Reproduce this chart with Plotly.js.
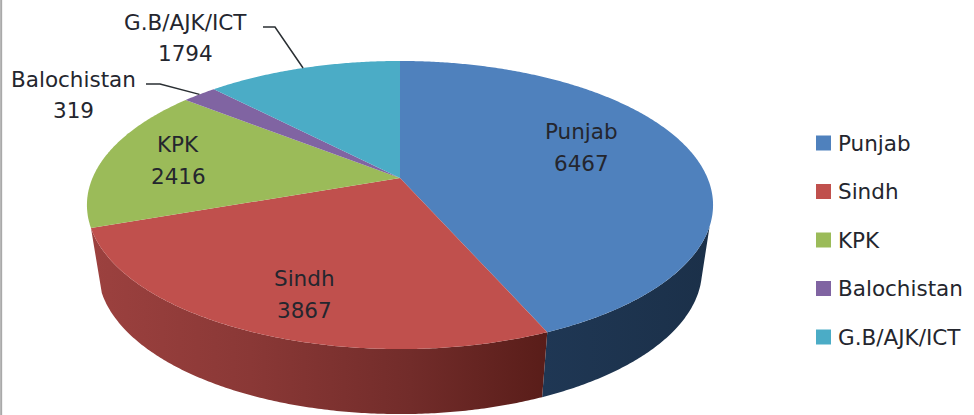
<!DOCTYPE html>
<html>
<head>
<meta charset="utf-8">
<script src="https://cdn.plot.ly/plotly-3.0.1.min.js"></script>
<style>html,body{margin:0;padding:0;background:#fff}#chart{width:974px;height:415px}</style>
</head>
<body>
<div id="chart"></div>
<script>
// Data
const categories = ["Punjab", "Sindh", "KPK", "Balochistan", "G.B/AJK/ICT"];
const values = [6467, 3867, 2416, 319, 1794];
const colors = ["#4f81bd", "#c0504d", "#9bbb59", "#8064a2", "#4bacc6"];
const wallScales = [
  [[0, "#1f3754"], [1, "#1b3049"]],
  [[0, "#9c413f"], [0.35, "#8a3836"], [0.7, "#722c2a"], [1, "#591d19"]]
];
const labelAnchors = [[581, 131, 163], [304, 278, 310], [178, 144, 176], [73, 79, 110], [185, 22, 53]];
const leaderStarts = { 3: [[146, 84], [160, 84]], 4: [[263, 27], [275, 27]] };

// Perspective geometry of the disc (pixel space of the hidden axes)
const apex = [400, 178], A = 307.5, B = 139, K = 0.1875;
const depth = 65, lowerScale = 302 / 313;
const upperSilhouette = 109, lowerSilhouette = 104;
const DEG = Math.PI / 180;
const total = values.reduce((a, b) => a + b, 0);
const font = { family: "DejaVu Sans", size: 21.5, color: "#24262e" };

function rim(deg, lower) {
  const u = Math.sin(deg * DEG), v = Math.cos(deg * DEG), w = 1 + K * v;
  const s = lower ? lowerScale : 1;
  return [apex[0] + s * A * u / w, apex[1] - B * v / w + (lower ? depth : 0)];
}
function arc(a0, a1, lower) {
  const n = Math.max(2, Math.ceil(Math.abs(a1 - a0) * 2)), p = [];
  for (let i = 0; i <= n; i++) p.push(rim(a0 + (a1 - a0) * i / n, lower));
  return p;
}

let cum = 0;
const slices = values.map(v => {
  const s = { start: cum / total * 360, end: (cum + v) / total * 360 };
  s.mid = (s.start + s.end) / 2;
  cum += v;
  return s;
});

const traces = [];
const base = { type: "scatter", hoverinfo: "skip", showlegend: false };

// Side walls: only the part of the rim that faces the viewer
wallScales.forEach((scale, i) => {
  const s = slices[i];
  const upper0 = Math.max(s.start, upperSilhouette), lower0 = Math.max(s.start, lowerSilhouette);
  const a1 = Math.min(s.end, 270);
  const pts = arc(upper0, a1, false).concat(arc(a1, lower0, true));
  traces.push(Object.assign({}, base, {
    mode: "none", fill: "toself",
    x: pts.map(p => p[0]), y: pts.map(p => p[1]),
    fillcolor: scale[0][1],
    fillgradient: { type: "horizontal", colorscale: scale }
  }));
});

// Top faces
slices.forEach((s, i) => {
  const pts = [apex].concat(arc(s.start, s.end, false));
  traces.push(Object.assign({}, base, {
    mode: "none", fill: "toself",
    x: pts.map(p => p[0]), y: pts.map(p => p[1]),
    fillcolor: colors[i], name: categories[i]
  }));
});

// Leader lines
Object.keys(leaderStarts).forEach(k => {
  const pts = leaderStarts[k].concat([rim(slices[k].mid, false)]);
  traces.push(Object.assign({}, base, {
    mode: "lines", line: { color: "#2a2f33", width: 1.5 },
    x: pts.map(p => p[0]), y: pts.map(p => p[1])
  }));
});

// Legend swatches
const legendY = i => 143 + i * 48.5;
traces.push(Object.assign({}, base, {
  mode: "markers",
  x: categories.map(() => 823.5),
  y: categories.map((c, i) => legendY(i)),
  marker: { symbol: "square", size: 15, color: colors, line: { width: 0 } }
}));

const annotations = [];
// Legend text
categories.forEach((c, i) => annotations.push({
  x: 837, y: legendY(i), xref: "x", yref: "y", text: c, showarrow: false,
  xanchor: "left", yanchor: "middle", xshift: -1, font
}));
// Data labels
categories.forEach((c, i) => {
  const [x, y1, y2] = labelAnchors[i];
  [[c, y1], [String(values[i]), y2]].forEach(([t, y]) => annotations.push({
    x, y, xref: "x", yref: "y", text: t, showarrow: false,
    xanchor: "center", yanchor: "middle", font
  }));
});

Plotly.newPlot("chart", traces, {
  width: 974, height: 415,
  margin: { l: 0, r: 0, t: 0, b: 0 },
  paper_bgcolor: "#ffffff", plot_bgcolor: "#ffffff",
  xaxis: { range: [0, 974], visible: false, fixedrange: true },
  yaxis: { range: [415, 0], visible: false, fixedrange: true },
  showlegend: false,
  annotations,
  shapes: [{ type: "line", xref: "paper", yref: "paper", x0: 0.0012, x1: 0.0012, y0: 0, y1: 1, line: { color: "#a9a9a9", width: 2 } }]
}, { displayModeBar: false, staticPlot: true });
</script>
</body>
</html>
